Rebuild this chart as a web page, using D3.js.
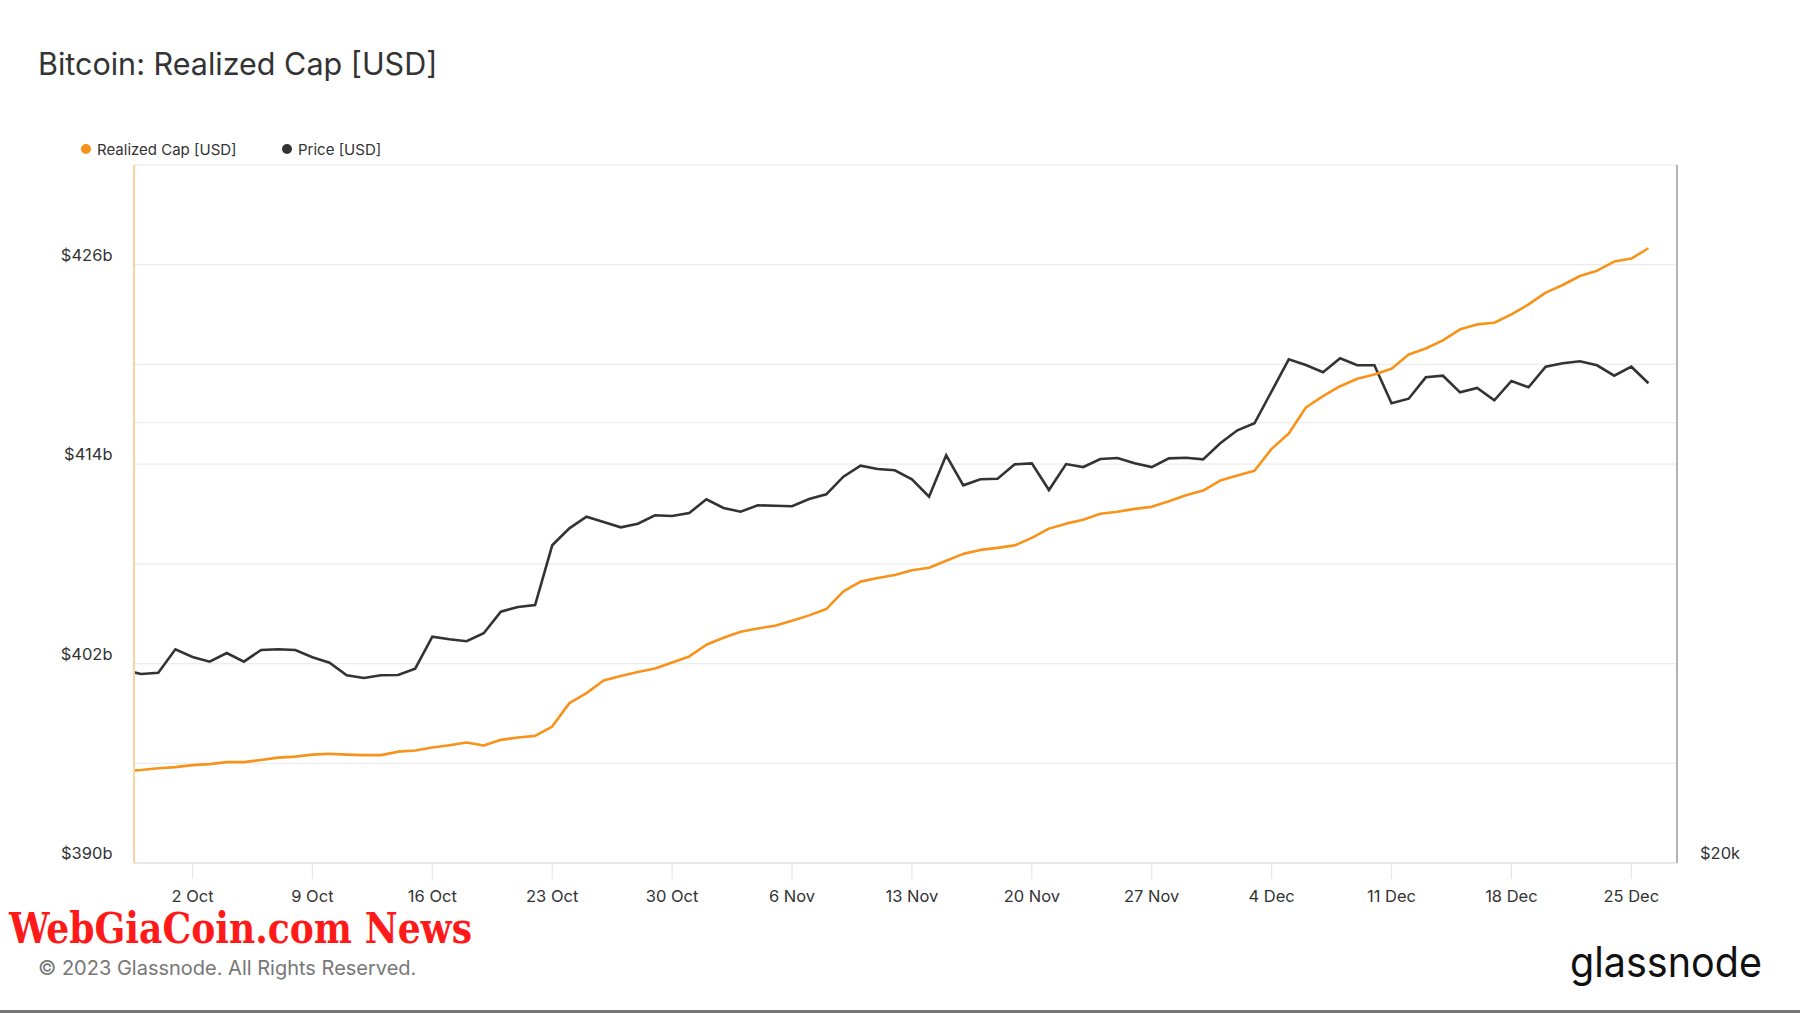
<!DOCTYPE html>
<html>
<head>
<meta charset="utf-8">
<script src="https://cdn.jsdelivr.net/npm/d3@7"></script>
<style>
  html, body { margin: 0; padding: 0; background: #fff; }
  svg { display: block; font-family: Inter, "Noto Sans", sans-serif; }
</style>
</head>
<body>
<svg id="chart" width="1800" height="1013"></svg>
<script>
// ---------------- DATA ----------------
const startDate = "2023-09-28";   // first daily point (partly clipped at left edge)

// Realized Cap [USD], billions, daily Sep 28 – Dec 26 2023
const realizedCap = [
  395.53, 395.60, 395.70,
  395.77, 395.89, 395.95, 396.07, 396.07, 396.20, 396.34, 396.40, 396.52, 396.57,
  396.52, 396.49, 396.49, 396.70, 396.77, 396.95, 397.09, 397.25, 397.07, 397.41,
  397.55, 397.65, 398.21, 399.62, 400.22, 400.98, 401.25, 401.49, 401.70, 402.07, 402.43,
  403.13, 403.55, 403.92, 404.11, 404.28, 404.58, 404.90, 405.28, 406.34, 406.93,
  407.15, 407.33, 407.61, 407.77, 408.19, 408.60, 408.84, 408.96, 409.11, 409.56,
  410.12, 410.42, 410.66, 411.01, 411.14, 411.31, 411.43, 411.77, 412.13, 412.41,
  413.01, 413.31, 413.60, 414.92, 415.84, 417.41, 418.09, 418.69, 419.14, 419.40,
  419.74, 420.60, 420.96, 421.45, 422.11, 422.41, 422.51, 423.01, 423.61, 424.32,
  424.78, 425.32, 425.64, 426.19, 426.37, 426.99
];

// Price [USD], daily Sep 28 – Dec 26 2023
const price = [
  27100, 26930, 26985,
  27996, 27660, 27456, 27835, 27456, 27966, 27996, 27966, 27646, 27413,
  26875, 26760, 26875, 26887, 27155, 28558, 28441, 28352, 28711, 29704,
  29925, 30019, 32977, 33870, 34494, 34208, 33924, 34117, 34571, 34532, 34696,
  35452, 34970, 34768, 35118, 35096, 35064, 35468, 35732, 36736, 37376,
  37183, 37107, 36585, 35597, 37993, 36241, 36585, 36620, 37457, 37516,
  35973, 37474, 37298, 37771, 37831, 37516, 37298, 37813, 37848, 37753,
  38718, 39518, 39955, 42020, 44190, 43795, 43295, 44260, 43775, 43775,
  41234, 41533, 42956, 43065, 41954, 42239, 41429, 42707, 42285, 43679,
  43917, 44055, 43775, 43065, 43679, 42553
];

const xTickDates = ["2023-10-02","2023-10-09","2023-10-16","2023-10-23","2023-10-30","2023-11-06",
  "2023-11-13","2023-11-20","2023-11-27","2023-12-04","2023-12-11","2023-12-18","2023-12-25"];
const leftGridValues = [396, 402, 408, 414, 420, 426];
const leftLabelValues = [390, 402, 414, 426];
const rightGridValues = [40000];
const rightLabelValues = [20000];

const seriesNames = ["Realized Cap [USD]", "Price [USD]"];
const seriesColors = ["#f7931a", "#333333"];

// ---------------- LAYOUT ----------------
const svg = d3.select("#chart");
const plot = { left: 134, right: 1677, top: 165, bottom: 863 };

const parse = d3.utcParse("%Y-%m-%d");
const t0 = parse(startDate);
const dates = realizedCap.map((_, i) => d3.utcDay.offset(t0, i));

const x = d3.scaleUtc()
  .domain([new Date(Date.UTC(2023, 8, 28, 14)), new Date(Date.UTC(2023, 11, 27, 16))])
  .range([plot.left, plot.right]);
const yL = d3.scaleLinear().domain([390, 432]).range([plot.bottom, plot.top]);
const yR = d3.scaleLog().domain([20000, 60000]).range([plot.bottom, plot.top]);

// Title
svg.append("text").attr("x", 38).attr("y", 75)
  .attr("font-size", 30.5).attr("fill", "#333").attr("font-weight", 400)
  .text("Bitcoin: Realized Cap [USD]");

// Legend
const legend = svg.append("g");
const legX = [86, 287];
seriesNames.forEach((n, i) => {
  legend.append("circle").attr("cx", legX[i]).attr("cy", 149).attr("r", 5).attr("fill", seriesColors[i]);
  legend.append("text").attr("x", legX[i] + 11).attr("y", 154.5)
    .attr("font-size", 15).attr("fill", "#333").text(n);
});

// Gridlines
const grid = svg.append("g");
grid.selectAll("line.gl").data(leftGridValues).join("line")
  .attr("x1", plot.left).attr("x2", plot.right)
  .attr("y1", d => yL(d)).attr("y2", d => yL(d))
  .attr("stroke", "#ececec").attr("stroke-width", 1.2);
grid.selectAll("line.gr").data(rightGridValues).join("line")
  .attr("x1", plot.left).attr("x2", plot.right)
  .attr("y1", d => yR(d)).attr("y2", d => yR(d))
  .attr("stroke", "#ececec").attr("stroke-width", 1.2);

// Frame
svg.append("line").attr("x1", plot.left).attr("x2", plot.right).attr("y1", plot.top).attr("y2", plot.top)
  .attr("stroke", "#e6e6e6").attr("stroke-width", 1.2);
svg.append("line").attr("x1", plot.left).attr("x2", plot.right).attr("y1", plot.bottom).attr("y2", plot.bottom)
  .attr("stroke", "#e0e0e0").attr("stroke-width", 1.5);
svg.append("line").attr("x1", plot.right).attr("x2", plot.right).attr("y1", plot.top).attr("y2", plot.bottom)
  .attr("stroke", "#9a9a9a").attr("stroke-width", 1.5);
svg.append("line").attr("x1", plot.left).attr("x2", plot.left).attr("y1", plot.top).attr("y2", plot.bottom)
  .attr("stroke", "#f7931a").attr("stroke-opacity", 0.55).attr("stroke-width", 1.5);

// X axis ticks + labels
const xTicks = xTickDates.map(parse);
const fmt = d3.utcFormat("%-d %b");
const xAxis = svg.append("g");
xAxis.selectAll("line").data(xTicks).join("line")
  .attr("x1", d => x(d)).attr("x2", d => x(d))
  .attr("y1", plot.bottom + 1).attr("y2", plot.bottom + 16)
  .attr("stroke", "#e6e6e6").attr("stroke-width", 1.2);
xAxis.selectAll("text").data(xTicks).join("text")
  .attr("x", d => x(d)).attr("y", 902)
  .attr("text-anchor", "middle").attr("font-size", 16.5).attr("fill", "#333")
  .text(d => fmt(d));

// Y axis labels
svg.append("g").selectAll("text").data(leftLabelValues).join("text")
  .attr("x", 112.5).attr("y", d => yL(d) - 4)
  .attr("text-anchor", "end").attr("font-size", 16.5).attr("fill", "#333")
  .text(d => "$" + d + "b");
svg.append("g").selectAll("text").data(rightLabelValues).join("text")
  .attr("x", 1700).attr("y", d => yR(d) - 4)
  .attr("text-anchor", "start").attr("font-size", 16.5).attr("fill", "#333")
  .text(d => "$" + d / 1000 + "k");

// Clip
svg.append("clipPath").attr("id", "clip").append("rect")
  .attr("x", plot.left + 1).attr("y", plot.top).attr("width", plot.right - plot.left - 1).attr("height", plot.bottom - plot.top);

const g = svg.append("g").attr("clip-path", "url(#clip)");
const lineL = d3.line().x((d, i) => x(dates[i])).y(d => yL(d));
const lineR = d3.line().x((d, i) => x(dates[i])).y(d => yR(d));
g.append("path").datum(price).attr("d", lineR)
  .attr("fill", "none").attr("stroke", seriesColors[1]).attr("stroke-width", 2.6).attr("stroke-linejoin", "miter");
g.append("path").datum(realizedCap).attr("d", lineL)
  .attr("fill", "none").attr("stroke", seriesColors[0]).attr("stroke-width", 2.6).attr("stroke-linejoin", "round");

// Watermark
svg.append("text").attr("x", 9).attr("y", 943)
  .attr("font-family", "'DejaVu Serif Condensed', 'DejaVu Serif', serif").attr("font-weight", "bold")
  .attr("font-size", 42).attr("fill", "#ff1a1a")
  .attr("textLength", 463).attr("lengthAdjust", "spacingAndGlyphs")
  .text("WebGiaCoin.com News");

// Footer
svg.append("text").attr("x", 38).attr("y", 975)
  .attr("font-size", 20).attr("fill", "#777")
  .text("© 2023 Glassnode. All Rights Reserved.");
svg.append("text").attr("x", 1570).attr("y", 977)
  .attr("font-size", 42).attr("fill", "#111").attr("font-weight", 400)
  .attr("textLength", 192).attr("lengthAdjust", "spacingAndGlyphs")
  .text("glassnode");
svg.append("rect").attr("x", 0).attr("y", 1010).attr("width", 1800).attr("height", 3).attr("fill", "#777");
</script>
</body>
</html>
